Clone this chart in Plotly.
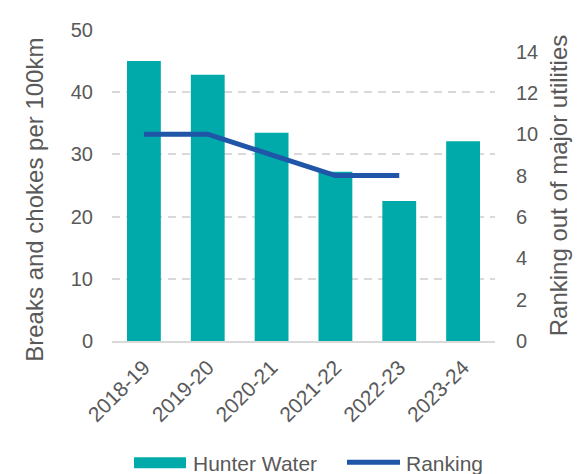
import plotly.graph_objects as go

categories = ["2018-19", "2019-20", "2020-21", "2021-22", "2022-23", "2023-24"]
breaks_per_100km = [45.0, 42.8, 33.5, 27.2, 22.5, 32.1]
ranking = [10, 10, 9, 8, 8, None]

left_ticks = [0, 10, 20, 30, 40, 50]
right_ticks = [0, 2, 4, 6, 8, 10, 12, 14]

BAR_COLOR = "#00AAAA"
LINE_COLOR = "#1F56A8"
TEXT_COLOR = "#595959"
GRID_COLOR = "#D9D9D9"
FONT = "Liberation Sans, Arial, sans-serif"

W, H = 577, 474
L, R, T, B = 112, 82, 30, 132.5
PW = W - L - R
PH = H - T - B


def px_x(px):
    return (px - L) / PW


def px_y(py):
    return (H - B - py) / PH


fig = go.Figure()
fig.add_trace(go.Bar(
    x=categories, y=breaks_per_100km, name="Hunter Water",
    marker=dict(color=BAR_COLOR, line=dict(width=0)),
    yaxis="y", showlegend=False,
))
fig.add_trace(go.Scatter(
    x=categories, y=ranking, name="Ranking", mode="lines",
    line=dict(color=LINE_COLOR, width=5),
    yaxis="y2", showlegend=False, connectgaps=False,
))

fig.update_layout(
    width=W, height=H,
    margin=dict(l=L, r=R, t=T, b=B, pad=0, autoexpand=False),
    paper_bgcolor="white", plot_bgcolor="white",
    font=dict(family=FONT, color=TEXT_COLOR, size=20),
    bargap=0.47,
    xaxis=dict(
        type="category", tickangle=-45, showgrid=False, automargin=False,
        showline=True, linecolor=GRID_COLOR, linewidth=1.5,
        ticks="", tickfont=dict(size=21, color=TEXT_COLOR),
        ticklabelstandoff=4,
    ),
    yaxis=dict(
        range=[0, 50], tickvals=left_ticks, showgrid=True, automargin=False,
        gridcolor=GRID_COLOR, gridwidth=1.5, griddash="8px,6px",
        zeroline=False, showline=False, ticks="",
        tickfont=dict(size=20, color=TEXT_COLOR),
        ticklabelstandoff=18,
    ),
    yaxis2=dict(
        overlaying="y", side="right", range=[0, 15.04], automargin=False,
        tickvals=right_ticks, showgrid=False, zeroline=False,
        showline=False, ticks="",
        tickfont=dict(size=20, color=TEXT_COLOR),
        ticklabelstandoff=20,
        title=dict(text="Ranking out of major utilities",
                   font=dict(size=24, color=TEXT_COLOR), standoff=12),
    ),
    annotations=[
        dict(text="Breaks and chokes per 100km", xref="paper", yref="paper",
             x=px_x(35), y=px_y(200), textangle=-90, showarrow=False,
             font=dict(size=24, color=TEXT_COLOR),
             xanchor="center", yanchor="middle"),
        dict(text="Hunter Water", xref="paper", yref="paper",
             x=px_x(191), y=px_y(464), showarrow=False,
             font=dict(size=21, color=TEXT_COLOR),
             xanchor="left", yanchor="middle"),
        dict(text="Ranking", xref="paper", yref="paper",
             x=px_x(404), y=px_y(464), showarrow=False,
             font=dict(size=21, color=TEXT_COLOR),
             xanchor="left", yanchor="middle"),
    ],
    shapes=[
        dict(type="rect", xref="paper", yref="paper",
             x0=px_x(134), x1=px_x(186), y0=px_y(469), y1=px_y(458),
             fillcolor=BAR_COLOR, line=dict(width=0)),
        dict(type="line", xref="paper", yref="paper",
             x0=px_x(347), x1=px_x(400), y0=px_y(463), y1=px_y(463),
             line=dict(color=LINE_COLOR, width=5)),
    ],
)

fig.write_html("out.html")
